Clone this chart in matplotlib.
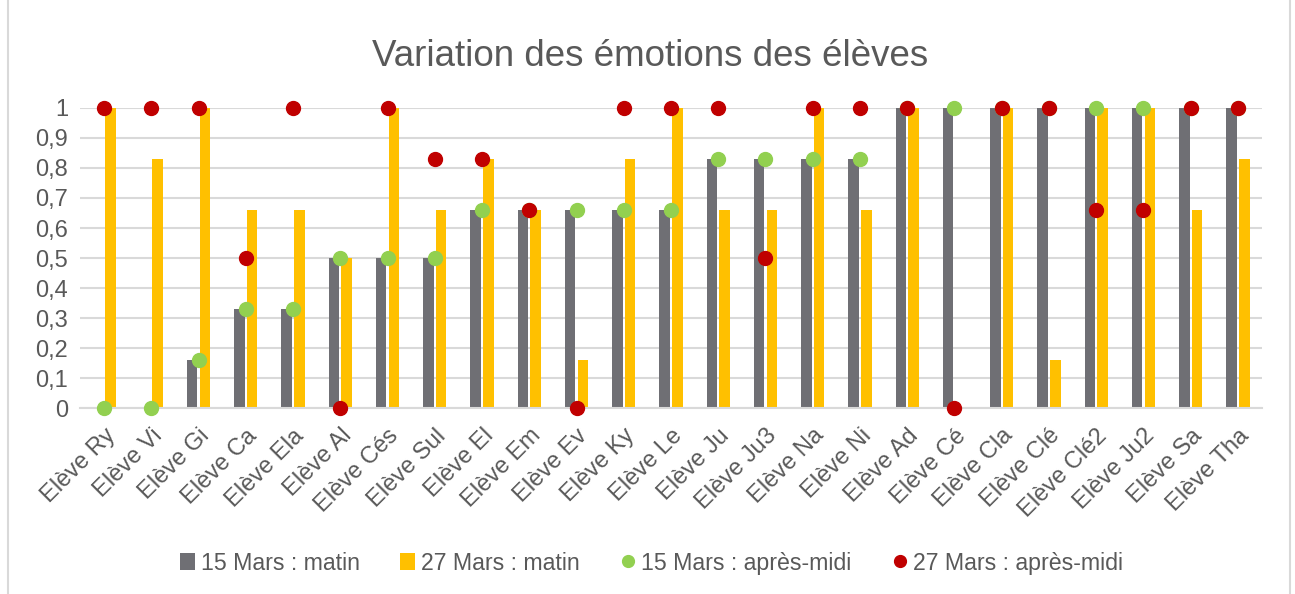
import matplotlib
matplotlib.use("Agg")
import matplotlib.pyplot as plt
import matplotlib.transforms as mtransforms
import numpy as np
from matplotlib.patches import Rectangle

plt.rcParams['font.family'] = ['Liberation Sans', 'DejaVu Sans']

students = ["Elève Ry", "Elève Vi", "Elève Gi", "Elève Ca", "Elève Ela", "Elève Al",
            "Elève Cés", "Elève Sul", "Elève El", "Elève Em", "Elève Ev", "Elève Ky",
            "Elève Le", "Elève Ju", "Elève Ju3", "Elève Na", "Elève Ni", "Elève Ad",
            "Elève Cé", "Elève Cla", "Elève Clé", "Elève Clé2", "Elève Ju2", "Elève Sa",
            "Elève Tha"]
mars15_matin = [0, 0, 0.16, 0.33, 0.33, 0.5, 0.5, 0.5, 0.66, 0.66, 0.66, 0.66, 0.66,
                0.83, 0.83, 0.83, 0.83, 1, 1, 1, 1, 1, 1, 1, 1]
mars27_matin = [1, 0.83, 1, 0.66, 0.66, 0.5, 1, 0.66, 0.83, 0.66, 0.16, 0.83, 1,
                0.66, 0.66, 1, 0.66, 1, 0, 1, 0.16, 1, 1, 0.66, 0.83]
mars15_am = [0, 0, 0.16, 0.33, 0.33, 0.5, 0.5, 0.5, 0.66, 0.66, 0.66, 0.66, 0.66,
             0.83, 0.83, 0.83, 0.83, 1, 1, 1, 1, 1, 1, 1, 1]
mars27_am = [1, 1, 1, 0.5, 1, 0, 1, 0.83, 0.83, 0.66, 0, 1, 1, 1, 0.5, 1, 1, 1, 0,
             1, 1, 0.66, 0.66, 1, 1]

yticks = np.arange(0, 11) / 10
ytick_labels = ["0"] + ["0,%d" % i for i in range(1, 10)] + ["1"]

c_gray = "#6F6F74"
c_yellow = "#FFC000"
c_green = "#92D050"
c_red = "#C00000"
txt = "#595959"

fig = plt.figure(figsize=(12.95, 5.94), dpi=100)
ax = fig.add_axes([0.0621, 0.3131, 0.9121, 0.5051])

x = np.arange(len(students))
w = 0.22
off = 0.135
b1 = ax.bar(x - off, mars15_matin, w, color=c_gray, label="15 Mars : matin", zorder=2)
b2 = ax.bar(x + off, mars27_matin, w, color=c_yellow, label="27 Mars : matin", zorder=2)
p1, = ax.plot(x, mars15_am, "o", color=c_green, markersize=10, linestyle="none",
              label="15 Mars : après-midi", zorder=3, clip_on=False)
p2, = ax.plot(x, mars27_am, "o", color=c_red, markersize=10, linestyle="none",
              label="27 Mars : après-midi", zorder=4, clip_on=False)

ax.set_xlim(-0.5, len(students) - 0.5)
ax.set_ylim(0, 1)
ax.set_yticks(yticks)
ax.set_yticklabels(ytick_labels, fontsize=17, color=txt)
ax.set_xticks(x)
ax.set_xticklabels(students, rotation=45, ha="right", rotation_mode="anchor",
                   fontsize=17, color=txt)
# shift the rotated labels a little to the right, like Excel does
shift = mtransforms.ScaledTranslation(7 / 72, 0, fig.dpi_scale_trans)
for lab in ax.get_xticklabels():
    lab.set_transform(lab.get_transform() + shift)
ax.tick_params(axis="both", length=0)
ax.tick_params(axis="x", pad=12)
ax.tick_params(axis="y", pad=9)
ax.yaxis.grid(True, color="#D9D9D9", linewidth=1.5, zorder=0)
ax.set_axisbelow(True)
for s in ["top", "right", "left"]:
    ax.spines[s].set_visible(False)
ax.spines["bottom"].set_color("#D9D9D9")
ax.spines["bottom"].set_linewidth(1.5)

fig.text(0.502, 0.905, "Variation des émotions des élèves", ha="center", va="center",
         fontsize=26.5, color=txt)

handles = [b1, b2, p1, p2]
labels = [hd.get_label() for hd in handles]
fig.legend(handles, labels, loc="center", bbox_to_anchor=(0.503, 0.052), ncol=4,
           frameon=False, fontsize=16.7, labelcolor=txt, handlelength=0.65,
           handletextpad=0.25, columnspacing=1.75, markerscale=0.85)

fig.patches.append(Rectangle((0.006, -0.01), 0.99, 1.02, transform=fig.transFigure,
                             fill=False, edgecolor="#D9D9D9", linewidth=1.5))

fig.savefig("out.png", dpi=100)
